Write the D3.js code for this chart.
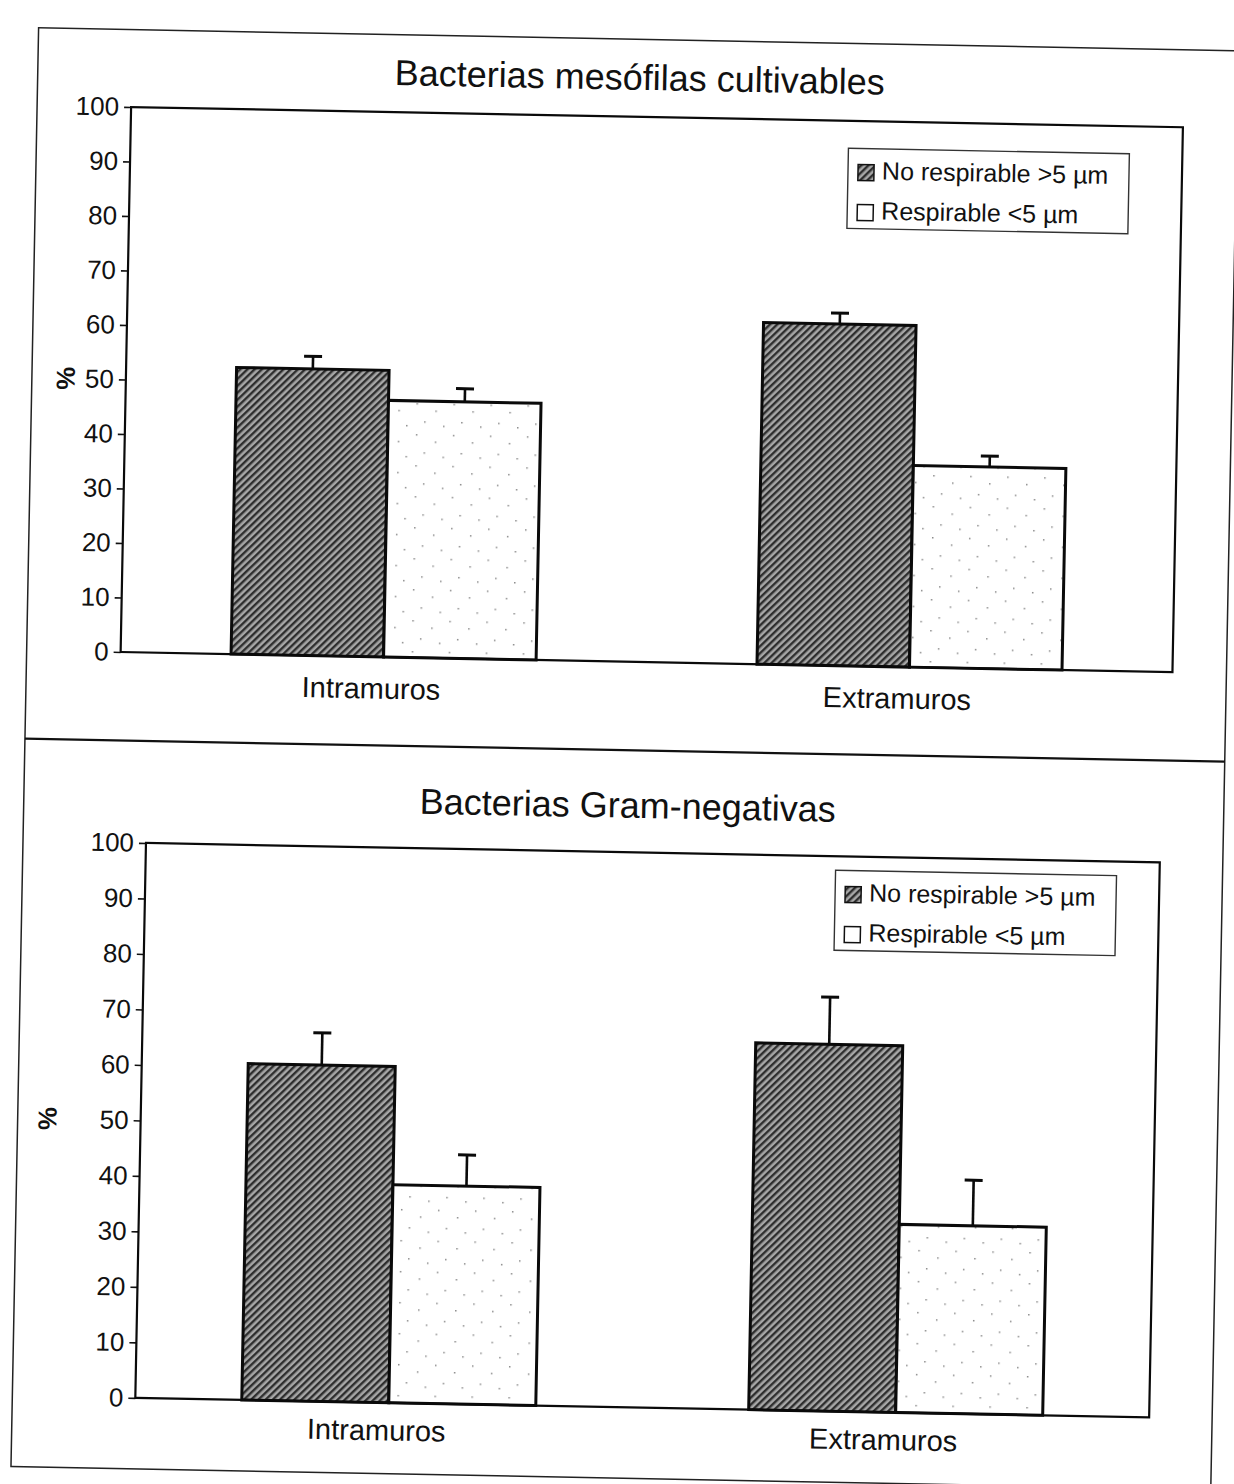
<!DOCTYPE html>
<html>
<head>
<meta charset="utf-8">
<script src="https://cdn.jsdelivr.net/npm/d3@7"></script>
<style>
  html, body { margin: 0; padding: 0; background: #fff; }
  svg { display: block; }
  text { font-family: "Liberation Sans", Arial, sans-serif; fill: #111; }
</style>
</head>
<body>
<svg id="page" width="1234" height="1484"></svg>
<script>
// ---- data ----
const categories = ["Intramuros", "Extramuros"];
const seriesNames = ["No respirable >5 µm", "Respirable <5 µm"];
const yTicks = [0, 10, 20, 30, 40, 50, 60, 70, 80, 90, 100];

// Bacterias mesófilas cultivables (%)
const mesofilasNoResp = [52.6, 62.7];
const mesofilasNoRespErr = [2.3, 2.0];
const mesofilasResp = [47.1, 37.0];
const mesofilasRespErr = [2.4, 2.0];

// Bacterias Gram-negativas (%)
const gramNoResp = [60.6, 66.1];
const gramNoRespErr = [5.8, 8.5];
const gramResp = [39.3, 33.9];
const gramRespErr = [5.6, 8.2];

const svg = d3.select("#page");
const defs = svg.append("defs");

// dark diagonal hatch for the ">5 µm" series
const hatch = defs.append("pattern")
  .attr("id", "hatchDark").attr("patternUnits", "userSpaceOnUse")
  .attr("width", 5).attr("height", 5)
  .attr("patternTransform", "rotate(45)");
hatch.append("rect").attr("width", 5).attr("height", 5).attr("fill", "#a6a6a6");
hatch.append("rect").attr("width", 2.4).attr("height", 5).attr("fill", "#2e2e2e");

// sparse speckle for the "<5 µm" series
const speck = defs.append("pattern")
  .attr("id", "speckLight").attr("patternUnits", "userSpaceOnUse")
  .attr("width", 37).attr("height", 31);
speck.append("rect").attr("width", 37).attr("height", 31).attr("fill", "#fff");
[[3, 4], [22, 11], [11, 22], [30, 26]].forEach(([x, y]) =>
  speck.append("rect").attr("x", x).attr("y", y).attr("width", 1.5).attr("height", 1.5).attr("fill", "#8a8a8a"));

const fills = ["url(#hatchDark)", "url(#speckLight)"];

// whole sheet, slightly tilted
const sheet = svg.append("g").attr("transform", "rotate(1.1 617 742)");

// outer frame and divider
sheet.append("rect")
  .attr("x", 25).attr("y", 39).attr("width", 1200).attr("height", 1439)
  .attr("fill", "none").attr("stroke", "#222").attr("stroke-width", 1.5);
sheet.append("line")
  .attr("x1", 25).attr("x2", 1225).attr("y1", 750).attr("y2", 750)
  .attr("stroke", "#111").attr("stroke-width", 2.2);

function drawChart(cfg) {
  const g = sheet.append("g");
  const x = d3.scaleBand().domain(categories)
    .range([cfg.left, cfg.right]).paddingInner(0.42).paddingOuter(0.21);
  const xs = d3.scaleBand().domain(seriesNames).range([0, x.bandwidth()]);
  const y = d3.scaleLinear().domain([0, 100]).range([cfg.bottom, cfg.top]);

  // title
  g.append("text")
    .attr("x", cfg.titleX).attr("y", cfg.titleY)
    .attr("text-anchor", "middle").attr("dominant-baseline", "middle")
    .style("font-size", "36px").text(cfg.title);

  // y axis
  const yAxis = d3.axisLeft(y).tickValues(yTicks).tickSize(7).tickPadding(5).tickFormat(d3.format("d"));
  const ya = g.append("g").attr("transform", `translate(${cfg.left},0)`).call(yAxis);
  ya.select(".domain").remove();
  ya.selectAll(".tick line").attr("stroke", "#111").attr("stroke-width", 1.6);
  ya.selectAll(".tick text").style("font-size", "26px").attr("fill", "#111")
    .style("font-family", "'Liberation Sans', Arial, sans-serif");

  // y title
  g.append("text")
    .attr("transform", `translate(${cfg.yLabelX},${(cfg.top + cfg.bottom) / 2}) rotate(-90)`)
    .attr("text-anchor", "middle").attr("dominant-baseline", "middle")
    .style("font-size", "26px").style("font-weight", "bold").text("%");

  // bars
  const series = [
    { name: seriesNames[0], vals: cfg.noResp, errs: cfg.noRespErr, fill: fills[0] },
    { name: seriesNames[1], vals: cfg.resp, errs: cfg.respErr, fill: fills[1] }
  ];
  series.forEach(s => {
    categories.forEach((c, i) => {
      const bx = x(c) + xs(s.name);
      g.append("rect")
        .attr("x", bx).attr("y", y(s.vals[i]))
        .attr("width", xs.bandwidth()).attr("height", y(0) - y(s.vals[i]))
        .attr("fill", s.fill).attr("stroke", "#0a0a0a").attr("stroke-width", 3);
      // upper error bar
      const cx = bx + xs.bandwidth() / 2;
      g.append("line")
        .attr("x1", cx).attr("x2", cx)
        .attr("y1", y(s.vals[i])).attr("y2", y(s.vals[i] + s.errs[i]))
        .attr("stroke", "#0a0a0a").attr("stroke-width", 2.6);
      g.append("line")
        .attr("x1", cx - 9).attr("x2", cx + 9)
        .attr("y1", y(s.vals[i] + s.errs[i])).attr("y2", y(s.vals[i] + s.errs[i]))
        .attr("stroke", "#0a0a0a").attr("stroke-width", 3);
    });
  });

  // plot area frame
  g.append("rect")
    .attr("x", cfg.left).attr("y", cfg.top)
    .attr("width", cfg.right - cfg.left).attr("height", cfg.bottom - cfg.top)
    .attr("fill", "none").attr("stroke", "#0a0a0a").attr("stroke-width", 2.2);

  // category labels
  categories.forEach(c => {
    g.append("text")
      .attr("x", x(c) + x.bandwidth() / 2 - 12).attr("y", cfg.bottom + cfg.labelGap)
      .attr("text-anchor", "middle").attr("dominant-baseline", "middle")
      .style("font-size", "29px").text(c);
  });

  // legend
  const lg = g.append("g").attr("transform", `translate(${cfg.legX},${cfg.legY})`);
  lg.append("rect").attr("width", 281).attr("height", 80)
    .attr("fill", "#fff").attr("stroke", "#333").attr("stroke-width", 1.4);
  seriesNames.forEach((n, i) => {
    const ry = i === 0 ? 24 : 64;
    lg.append("rect").attr("x", 10).attr("y", ry - 8).attr("width", 16).attr("height", 16)
      .attr("fill", fills[i]).attr("stroke", "#111").attr("stroke-width", 1.5);
    lg.append("text").attr("x", 34).attr("y", ry)
      .attr("dominant-baseline", "middle").style("font-size", "25px").text(n);
  });
}

drawChart({
  title: "Bacterias mesófilas cultivables", titleX: 627, titleY: 80,
  left: 119, right: 1171, top: 116.5, bottom: 661.5, yLabelX: 61, labelGap: 34,
  legX: 837, legY: 144,
  noResp: mesofilasNoResp, noRespErr: mesofilasNoRespErr,
  resp: mesofilasResp, respErr: mesofilasRespErr
});

drawChart({
  title: "Bacterias Gram-negativas", titleX: 629, titleY: 808,
  left: 148, right: 1162, top: 852, bottom: 1407, yLabelX: 57, labelGap: 30,
  legX: 838, legY: 866,
  noResp: gramNoResp, noRespErr: gramNoRespErr,
  resp: gramResp, respErr: gramRespErr
});
</script>
</body>
</html>
